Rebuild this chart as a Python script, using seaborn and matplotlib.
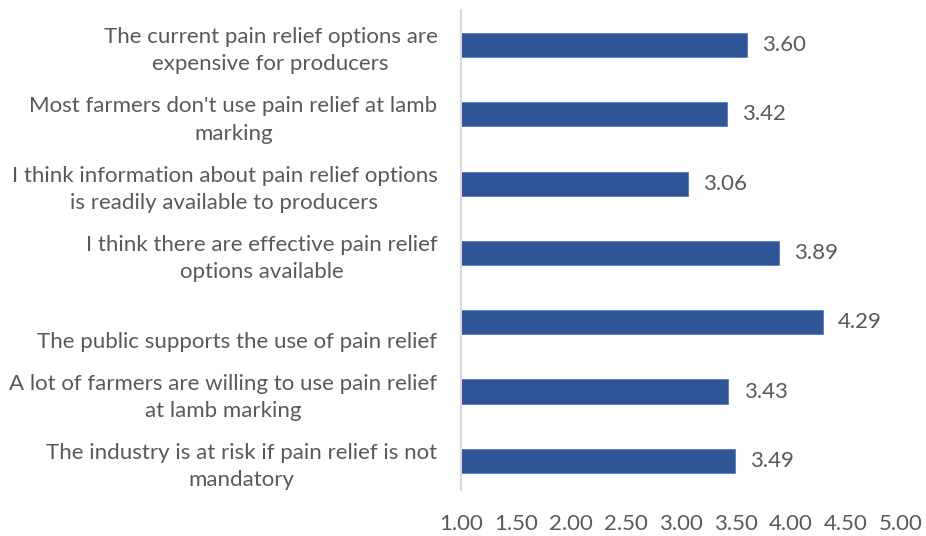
import matplotlib
matplotlib.use("Agg")
import matplotlib.pyplot as plt
import matplotlib.transforms as mtransforms
import seaborn as sns
import pandas as pd

statements = [
    "The current pain relief options are\nexpensive for producers",
    "Most farmers don't use pain relief at lamb\nmarking",
    "I think information about pain relief options\nis readily available to producers",
    "I think there are effective pain relief\noptions available",
    "The public supports the use of pain relief",
    "A lot of farmers are willing to use pain relief\nat lamb marking",
    "The industry is at risk if pain relief is not\nmandatory",
]
scores = [3.60, 3.42, 3.06, 3.89, 4.29, 3.43, 3.49]
x_ticks = [1.00, 1.50, 2.00, 2.50, 3.00, 3.50, 4.00, 4.50, 5.00]

df = pd.DataFrame({"statement": statements, "score": scores})

sns.set_theme(style="white")
plt.rcParams["font.family"] = ["Lato", "DejaVu Sans"]
text_color = "#595959"
bar_color = "#2F5597"

fig = plt.figure(figsize=(9.26, 5.36), dpi=100)
ax = fig.add_axes([461 / 926, 1 - 490 / 536, 440 / 926, 480 / 536])

sns.barplot(data=df, x="score", y="statement", orient="h", color=bar_color,
            width=0.35, ax=ax, saturation=1, edgecolor="#4472C4", linewidth=0.5)

for container in ax.containers:
    ax.bar_label(container, labels=[f"{v:.2f}" for v in scores], padding=11,
                 fontsize=16, color=text_color)

ax.set_xlim(1, 5)
ax.set_ylim(6.42, -0.505)
ax.set_xticks(x_ticks)
ax.set_xticklabels([f"{t:.2f}" for t in x_ticks])
ax.tick_params(axis="x", length=0, pad=17, labelsize=16, labelcolor=text_color)
ax.tick_params(axis="y", length=0, pad=17, labelsize=16, labelcolor=text_color)
for lbl in ax.get_yticklabels():
    lbl.set_horizontalalignment("right")
    lbl.set_multialignment("center")
    lbl.set_linespacing(1.45)
    # a single-line category label sits lower, under its bar
    if "\n" not in lbl.get_text():
        lbl.set_transform(lbl.get_transform() +
                          mtransforms.ScaledTranslation(0, -13 / 72, fig.dpi_scale_trans))
ax.set_xlabel("")
ax.set_ylabel("")
for side in ["top", "right", "bottom"]:
    ax.spines[side].set_visible(False)
ax.spines["left"].set_color("#D9D9D9")
ax.spines["left"].set_linewidth(1.5)
ax.grid(False)

fig.savefig("out.png", dpi=100)
